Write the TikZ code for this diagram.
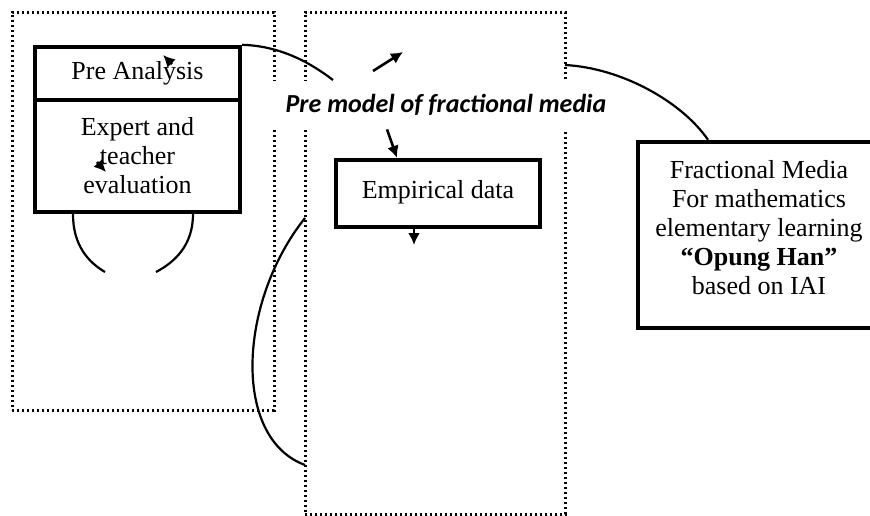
\documentclass[tikz,border=0pt]{standalone}
\usepackage{fontspec}
\setmainfont{Liberation Serif}
\newfontfamily\labelfont{Carlito}
\usepackage{tikz}
\usetikzlibrary{arrows.meta, positioning, calc}

\begin{document}
\begin{tikzpicture}[
  x=0.5pt, y=-0.5pt,
  frame/.style={draw, line width=1.5pt, dash pattern=on 1.2pt off 1.3pt},
  box/.style={draw, line width=2.2pt, align=center, font=\fontsize{13}{14.5}\selectfont, inner sep=0pt},
  link/.style={line width=1.1pt},
  arr/.style={line width=1.3pt, -{Latex[length=6pt, width=6pt]}},
]
  \useasboundingbox (0,0) rectangle (870,515);

  % dotted frames
  \node[frame, minimum width=131pt, minimum height=199pt] (lframe) at (143,211) {};
  \node[frame, minimum width=130pt, minimum height=251pt] (rframe) at (435,263) {};

  % boxes
  \node[box, minimum width=102.5pt, minimum height=26.5pt] (pre) at (137.5,73.5) {Pre Analysis};
  \node[box, minimum width=102.5pt, minimum height=56pt] (expert) at (137.5,156) {Expert and\\teacher\\evaluation};
  \node[box, minimum width=102pt, minimum height=33.5pt] (empirical) at (438,193.5) {Empirical data\\[-10.5pt]\mbox{}};
  \node[box, minimum width=121pt, minimum height=93pt] (media) at (759,235)
    {Fractional Media\\For mathematics\\elementary learning\\\textbf{“Opung Han”}\\based on IAI\\[-6.5pt]\mbox{}};

  % points on the frames
  \coordinate (r1) at (565,65);
  \coordinate (r2) at (305,218);
  \coordinate (r3) at (305,465);
  \coordinate (c1) at (333,80);

  % curves
  \draw[link] (pre.north east) .. controls (282,46) and (312,64) .. (c1);
  \draw[link] (r1) .. controls (622,68) and (682,102) .. (media.north west -| 708,0);
  \draw[link] (r2) .. controls (238,302) and (232,438) .. (r3);
  \draw[link] (expert.south west -| 73,0) .. controls (73,245) and (88,262) .. (105,272);
  \draw[link] (expert.south west -| 193,0) .. controls (193,245) and (175,262) .. (156,272);

  % label
  \node[fill=white, minimum width=179pt, minimum height=24pt, inner sep=0pt,
    font=\labelfont\bfseries\itshape\fontsize{13}{15}\selectfont] (model) at (446,105)
    {Pre model of fractional media};

  % arrows
  \draw[arr] (373,71) -- (403,52);
  \draw[arr] (model.south -| 387,0) -- (empirical.north -| 397,0);
  \draw[arr] (empirical.south -| 414,0) -- (414,245);
  \draw[arr] (172,64) -- (163,55);
  \draw[arr] (97,162) -- (106,172);
\end{tikzpicture}
\end{document}
